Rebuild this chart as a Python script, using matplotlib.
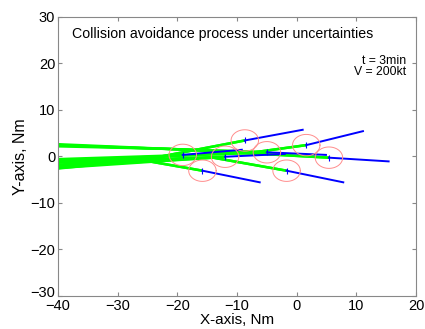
import numpy as np
import matplotlib
matplotlib.use("Agg")
import matplotlib.pyplot as plt
import matplotlib.transforms as mtransforms

plt.rcParams['font.family'] = ['Liberation Sans', 'DejaVu Sans']

# aircraft current positions (circle centers) and predicted end points (blue)
cx = [-19.1, -8.7, 1.6, 5.4, -1.7, -15.8, -12.0, -5.0]
cy = [0.3, 3.4, 2.4, -0.3, -3.1, -3.1, -0.1, 0.86]
ex = [-9.2, 1.0, 11.1, 15.4, 7.8, -6.2, -2.0, 4.9]
ey = [1.4, 5.7, 5.4, -1.1, -5.6, -5.6, 0.5, 0.3]

# past tracks (green): start point left of the frame and one waypoint
sx = [-42, -42, -42, -42, -42, -42, -42, -42]
sy = [[-2.2, -2.0], [-1.5, -1.3], [-1.0, -0.7], [2.7, 2.5], [-2.7, -2.4], [-2.9, -2.7], [-1.2, -1.0], [2.4, 2.2]]
wx = [-30.0, -25.0, -8.0, -20.0, -14.0, -26.0, -25.0, -22.0]
wy = [-0.9, -0.6, 0.7, 1.5, -0.3, -0.8, -0.7, 1.6]

radius = 2.3

fig = plt.figure(figsize=(4.25, 3.29), dpi=100)
ax = fig.add_axes([0.1365, 0.101, 0.8425, 0.848])

# green past tracks
for i in range(len(cx)):
    for y0 in sy[i]:
        ax.plot([sx[i], wx[i], cx[i]], [y0, wy[i], cy[i]], color='#00ff00', lw=1.8,
                solid_capstyle='butt', zorder=2)

# blue predicted tracks
for i in range(len(cx)):
    ax.plot([cx[i], ex[i]], [cy[i], ey[i]], color='#0000ff', lw=1.4, zorder=3)
    ax.plot(cx[i], cy[i], marker='|', color='#0000ff', ms=4, mew=0.8, zorder=3)

# uncertainty circles
t = np.linspace(0, 2 * np.pi, 100)
for i in range(len(cx)):
    ax.plot(cx[i] + radius * np.cos(t), cy[i] + radius * np.sin(t),
            color='#ff8c8c', lw=0.7, zorder=4)

ax.set_xlim(-40, 20)
ax.set_ylim(-30, 30)
ax.set_xticks(range(-40, 21, 10))
ax.set_yticks(range(-30, 31, 10))
ax.tick_params(direction='in', length=3, color='#888888', labelsize=10.5,
               top=True, right=True, pad=2)
ax.tick_params(axis='x', pad=2.5)
for s in ax.spines.values():
    s.set_color('#888888')
    s.set_linewidth(0.8)

# lift the lowest y tick label a little, as in the original
fig.canvas.draw()
lab = ax.get_yticklabels()[0]
lab.set_transform(lab.get_transform() + mtransforms.ScaledTranslation(0, 3 / 72, fig.dpi_scale_trans))

ax.set_xlabel('X-axis, Nm', fontsize=11, labelpad=-0.5)
ax.set_ylabel('Y-axis, Nm', fontsize=11.5, labelpad=2)

ax.text(-37.7, 26.4, 'Collision avoidance process under uncertainties',
        fontsize=10.2, va='center', ha='left')
ax.text(18.4, 19.3, 't = 3min\nV = 200kt', fontsize=8.8, va='center', ha='right',
        linespacing=0.95)

fig.savefig('out.png', dpi=100)
